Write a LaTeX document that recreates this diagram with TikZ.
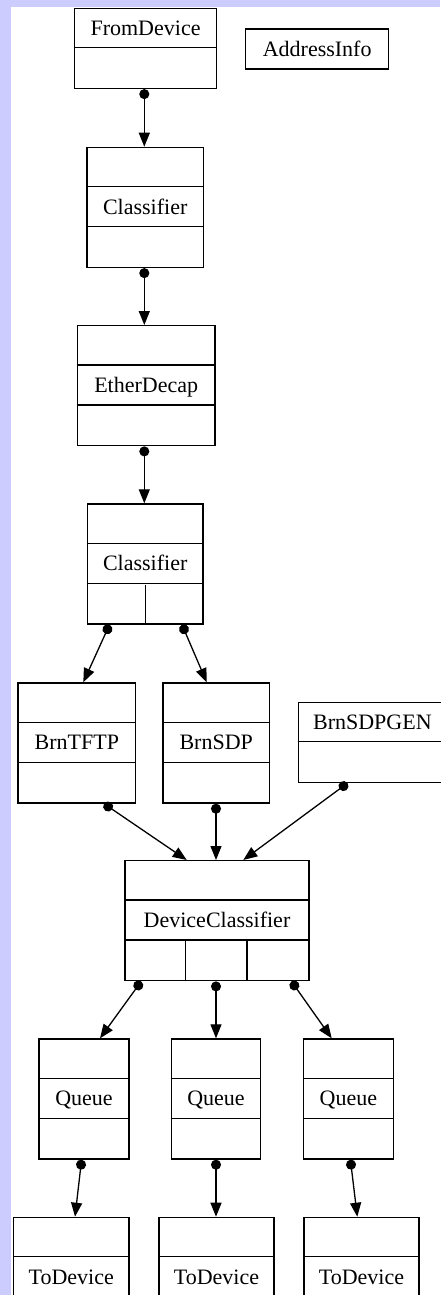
\documentclass[tikz,border=0pt]{standalone}
\usepackage{fontspec}
\setmainfont{Liberation Serif}
\usetikzlibrary{arrows.meta}
\definecolor{lav}{RGB}{204,204,255}
\tikzset{
  recbox/.style={draw, line width=1.4pt, inner sep=0pt, anchor=north west, minimum height={#1*40pt}},
  divider/.style={line width=1.4pt},
  lbl/.style={inner sep=0pt, text height=15pt, text depth=0pt, font=\fontsize{22}{26}\selectfont},
  edge/.style={line width=1.3pt, {Circle[length=10pt]}-{Triangle[length=14pt,width=11pt]}}
}
\newcommand\mkrec[7]{% name, left, top, width, rows, label row, text
  \node[recbox=#5, minimum width=#4pt] (#1) at (#2,#3) {};
  \pgfmathtruncatemacro\lastdiv{#5-1}
  \foreach \k in {1,...,\lastdiv}{
    \draw[divider] ([yshift={-\k*40pt}]#1.north west) -- ([yshift={-\k*40pt}]#1.north east);
  }
  \node[lbl] (#1-t) at ([yshift={-(#6-0.5)*40pt}]#1.north) {#7};
}
\begin{document}
\begin{tikzpicture}[x=1pt,y=-1pt]
\useasboundingbox (0,0) rectangle (440,1295);
\fill[lav] (0,0) rectangle (440,1295);
\fill[white] (11,7) rectangle (450,1305);

\mkrec{fd}{73.7}{7.7}{142.3}{2}{1}{FromDevice}
\node[recbox=1, minimum width=143pt] (ai) at (245,28.3) {};
\node[lbl] (ai-t) at (ai.center) {AddressInfo};
\mkrec{cla}{86.3}{146.7}{116.4}{3}{2}{Classifier}
\mkrec{ed}{76.7}{325}{137.6}{3}{2}{EtherDecap}
\mkrec{clb}{86.7}{503.3}{115.6}{3}{2}{Classifier}
\draw[divider] (clb.south) -- ([yshift=40pt]clb.south);
\mkrec{tftp}{17.3}{682.3}{117.7}{3}{2}{BrnTFTP}
\mkrec{sdp}{162.3}{682.3}{106.4}{3}{2}{BrnSDP}
\mkrec{gen}{297.7}{701.7}{148}{2}{1}{BrnSDPGEN}
\mkrec{dc}{124.3}{860}{184}{3}{2}{DeviceClassifier}
\draw[divider] ([xshift=61.3pt]dc.south west) -- ([xshift=61.3pt,yshift=40pt]dc.south west);
\draw[divider] ([xshift=122.7pt]dc.south west) -- ([xshift=122.7pt,yshift=40pt]dc.south west);
\mkrec{qa}{38.3}{1038.3}{90}{3}{2}{Queue}
\mkrec{qb}{170.7}{1038.3}{89.3}{3}{2}{Queue}
\mkrec{qc}{302.7}{1038.3}{90}{3}{2}{Queue}
\mkrec{tda}{12.7}{1216.7}{115.6}{2}{2}{ToDevice}
\mkrec{tdb}{158.3}{1216.7}{115}{2}{2}{ToDevice}
\mkrec{tdc}{303.3}{1216.7}{115}{2}{2}{ToDevice}

\draw[edge] ([xshift=70.6pt]fd.south west) -- ([xshift=58pt]cla.north west);
\draw[edge] ([xshift=58pt]cla.south west) -- ([xshift=67.6pt]ed.north west);
\draw[edge] ([xshift=67.6pt]ed.south west) -- ([xshift=57.6pt]clb.north west);
\draw[edge] ([xshift=22.8pt]clb.south west) -- ([xshift=66pt]tftp.north west);
\draw[edge] ([xshift=95.3pt]clb.south west) -- ([xshift=44.4pt]sdp.north west);
\draw[edge] ([xshift=86.7pt]tftp.south west) -- ([xshift=62.4pt]dc.north west);
\draw[edge] ([xshift=53.7pt]sdp.south west) -- ([xshift=91.7pt]dc.north west);
\draw[edge] ([xshift=49.8pt]gen.south west) -- ([xshift=119pt]dc.north west);
\draw[edge] ([xshift=16.9pt]dc.south west) -- ([xshift=61.7pt]qa.north west);
\draw[edge] ([xshift=91.7pt]dc.south west) -- ([xshift=45.3pt]qb.north west);
\draw[edge] ([xshift=167.2pt]dc.south west) -- ([xshift=29pt]qc.north west);
\draw[edge] ([xshift=43.3pt]qa.south west) -- ([xshift=62.3pt]tda.north west);
\draw[edge] ([xshift=45.3pt]qb.south west) -- ([xshift=57.7pt]tdb.north west);
\draw[edge] ([xshift=47.7pt]qc.south west) -- ([xshift=54pt]tdc.north west);
\end{tikzpicture}
\end{document}
